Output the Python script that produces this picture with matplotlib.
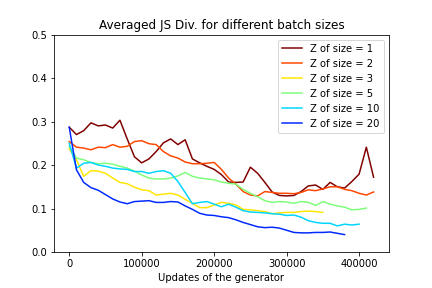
import numpy as np
import matplotlib
matplotlib.use('Agg')
import matplotlib.pyplot as plt

step = 10000

# averaged JS divergence per batch size, one value every 10000 updates
js_1 = [0.287, 0.270, 0.279, 0.297, 0.290, 0.292, 0.285, 0.303, 0.260, 0.219,
        0.205, 0.214, 0.231, 0.251, 0.260, 0.247, 0.258, 0.214, 0.205, 0.197,
        0.190, 0.178, 0.161, 0.160, 0.161, 0.195, 0.181, 0.160, 0.138, 0.130,
        0.129, 0.130, 0.139, 0.152, 0.154, 0.144, 0.160, 0.150, 0.147, 0.162,
        0.179, 0.241, 0.172]
js_2 = [0.254, 0.241, 0.239, 0.235, 0.241, 0.240, 0.247, 0.241, 0.243, 0.254,
        0.256, 0.249, 0.247, 0.231, 0.221, 0.216, 0.207, 0.203, 0.203, 0.204,
        0.206, 0.190, 0.170, 0.156, 0.139, 0.131, 0.129, 0.139, 0.137, 0.135,
        0.135, 0.134, 0.137, 0.143, 0.141, 0.145, 0.150, 0.150, 0.144, 0.141,
        0.135, 0.131, 0.138]
js_3 = [0.237, 0.212, 0.174, 0.187, 0.186, 0.181, 0.170, 0.160, 0.157, 0.149,
        0.143, 0.141, 0.131, 0.133, 0.135, 0.131, 0.121, 0.112, 0.102, 0.102,
        0.108, 0.114, 0.112, 0.108, 0.098, 0.097, 0.095, 0.093, 0.088, 0.090,
        0.091, 0.091, 0.093, 0.094, 0.093, 0.091]
js_5 = [0.243, 0.216, 0.212, 0.206, 0.203, 0.204, 0.202, 0.197, 0.193, 0.186,
        0.177, 0.170, 0.168, 0.168, 0.170, 0.175, 0.183, 0.174, 0.170, 0.168,
        0.166, 0.161, 0.158, 0.156, 0.144, 0.135, 0.127, 0.118, 0.114, 0.116,
        0.115, 0.112, 0.116, 0.114, 0.107, 0.116, 0.110, 0.106, 0.103, 0.097,
        0.098, 0.101]
js_10 = [0.250, 0.193, 0.204, 0.206, 0.200, 0.197, 0.193, 0.191, 0.190, 0.185,
         0.185, 0.181, 0.185, 0.187, 0.181, 0.162, 0.137, 0.111, 0.114, 0.116,
         0.110, 0.104, 0.110, 0.103, 0.095, 0.092, 0.091, 0.090, 0.088, 0.087,
         0.084, 0.085, 0.080, 0.072, 0.068, 0.066, 0.066, 0.060, 0.064, 0.062,
         0.064]
js_20 = [0.287, 0.189, 0.160, 0.148, 0.142, 0.132, 0.122, 0.115, 0.111, 0.116,
         0.117, 0.118, 0.114, 0.114, 0.116, 0.115, 0.106, 0.098, 0.089, 0.085,
         0.084, 0.081, 0.079, 0.074, 0.068, 0.063, 0.058, 0.056, 0.057, 0.055,
         0.050, 0.045, 0.044, 0.044, 0.045, 0.045, 0.046, 0.043, 0.040]

sizes = [1, 2, 3, 5, 10, 20]
series = [js_1, js_2, js_3, js_5, js_10, js_20]

colors = plt.cm.jet(np.linspace(1, 1 / 6, len(sizes)))

fig = plt.figure(figsize=(6, 4), dpi=72)
fig.subplots_adjust(bottom=0.125)
for z, vals, c in zip(sizes, series, colors):
    x = np.arange(len(vals)) * step
    plt.plot(x, vals, c=c, label='Z of size = ' + str(z))

plt.ylim(0, 0.5)
plt.xlabel('Updates of the generator')
plt.title('Averaged JS Div. for different batch sizes')
plt.legend(loc='upper right')
plt.savefig('out.png', dpi=72)
